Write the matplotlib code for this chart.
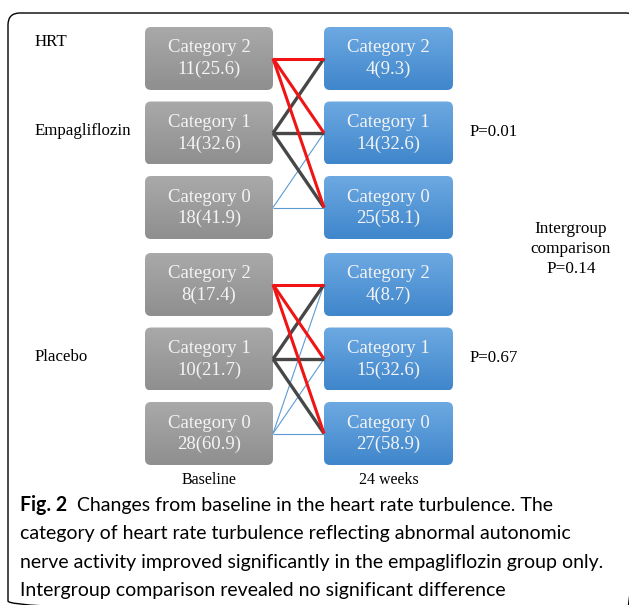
import numpy as np
import matplotlib
matplotlib.use('Agg')
import matplotlib.pyplot as plt
from matplotlib.patches import FancyBboxPatch
from matplotlib.colors import LinearSegmentedColormap

# data
groups = ['Empagliflozin', 'Placebo']
categories = ['Category 2', 'Category 1', 'Category 0']
baseline_n = [[11, 14, 18], [8, 10, 28]]
baseline_pct = [[25.6, 32.6, 41.9], [17.4, 21.7, 60.9]]
week24_n = [[4, 14, 25], [4, 15, 27]]
week24_pct = [[9.3, 32.6, 58.1], [8.7, 32.6, 58.9]]
p_within = ['P=0.01', 'P=0.67']
p_between = 'P=0.14'
# transitions (baseline category index -> 24 weeks category index)
transitions = [
    [(0, 0), (0, 1), (0, 2), (1, 0), (1, 1), (1, 2), (2, 1), (2, 2)],
    [(0, 0), (0, 1), (0, 2), (1, 0), (1, 1), (1, 2), (2, 0), (2, 1), (2, 2)],
]
caption_first = 'Changes from baseline in the heart rate turbulence. The'
caption = [
    'category of heart rate turbulence reflecting abnormal autonomic',
    'nerve activity improved significantly in the empagliflozin group only.',
    'Intergroup comparison revealed no significant difference',
]

# layout (pixel units)
W, H = 629, 605
base_x = (145, 273)
wk_x = (324, 453)
group_top = [27, 253]
box_h = 63
pitch = 74.5
serif = 'Liberation Serif'

line_style = {0: ('#f01414', 2.2), 1: ('#474747', 2.4), 2: ('#5b9bd5', 0.8)}

gray_cmap = LinearSegmentedColormap.from_list('g', ['#a9a9a9', '#8f8f8f'])
blue_cmap = LinearSegmentedColormap.from_list('b', ['#6da9e2', '#3f86cb'])
grad = np.linspace(0, 1, 64).reshape(-1, 1)

fig = plt.figure(figsize=(W / 100, H / 100), dpi=100)
ax = fig.add_axes([0, 0, 1, 1])
ax.axis('off')
ax.set_xlim(0, W)
ax.set_ylim(H, 0)


def draw_box(x0, x1, top, cmap, line1, line2):
    patch = FancyBboxPatch((x0, top), x1 - x0, box_h,
                           boxstyle='round,pad=0,rounding_size=6',
                           fc='none', ec='none')
    ax.add_patch(patch)
    im = ax.imshow(grad, cmap=cmap, extent=[x0, x1, top + box_h, top],
                   origin='upper', aspect='auto', interpolation='bicubic')
    im.set_clip_path(patch)
    cy = top + box_h / 2
    ax.text((x0 + x1) / 2, cy - 10.5, line1, ha='center', va='center',
            color='#f4f4f4', fontsize=13.5, family=serif)
    ax.text((x0 + x1) / 2, cy + 11, line2, ha='center', va='center',
            color='#f4f4f4', fontsize=13.5, family=serif)


for g, grp in enumerate(groups):
    tops = [group_top[g] + i * pitch for i in range(3)]
    for i, cat in enumerate(categories):
        draw_box(base_x[0], base_x[1], tops[i], gray_cmap, cat,
                 f'{baseline_n[g][i]}({baseline_pct[g][i]})')
        draw_box(wk_x[0], wk_x[1], tops[i], blue_cmap, cat,
                 f'{week24_n[g][i]}({week24_pct[g][i]})')
    # thin lines first, thick on top
    for a, b in sorted(transitions[g], key=lambda t: -t[0]):
        col, lw = line_style[a]
        ax.plot([base_x[1], wk_x[0]],
                [tops[a] + box_h / 2, tops[b] + box_h / 2],
                color=col, lw=lw, solid_capstyle='butt', zorder=3)
    mid = tops[1] + box_h / 2
    ax.text(35, mid - 2, grp, ha='left', va='center', fontsize=12.2,
            family=serif, color='black')
    ax.text(470, mid - 1, p_within[g], ha='left', va='center', fontsize=12.2,
            family=serif, color='black')

ax.text(35, 42, 'HRT', ha='left', va='center', fontsize=12.2, family=serif)
ax.text(571, 249, 'Intergroup\ncomparison\n' + p_between, ha='center',
        va='center', fontsize=12.4, family=serif, linespacing=1.3)
ax.text(sum(base_x) / 2, 480, 'Baseline', ha='center', va='center',
        fontsize=11.5, family=serif)
ax.text(sum(wk_x) / 2, 480, '24 weeks', ha='center', va='center',
        fontsize=11.5, family=serif)

# outer frame
frame = FancyBboxPatch((8, 13), 630, 600,
                       boxstyle='round,pad=0,rounding_size=12',
                       fill=False, ec='black', lw=1.0)
ax.add_patch(frame)

# caption: fit the longest line to the width it has in the original
cap_font = 'Lato'
renderer = fig.canvas.get_renderer()
probe = ax.text(20, 562, caption[1], ha='left', va='center', fontsize=12,
                family=cap_font)
w = probe.get_window_extent(renderer).width
cap_size = 12 * 582 / w
probe.remove()

fig_txt = ax.text(20, 505, 'Fig. 2', ha='left', va='center',
                  fontsize=cap_size, family=cap_font, weight='bold')
bb = fig_txt.get_window_extent(renderer)
ax.text(bb.x1 + 10, 505, caption_first, ha='left', va='center',
        fontsize=cap_size, family=cap_font)
for k, line in enumerate(caption):
    ax.text(20, 534 + 28.3 * k, line, ha='left', va='center',
            fontsize=cap_size, family=cap_font)

fig.savefig('out.png', dpi=100)
